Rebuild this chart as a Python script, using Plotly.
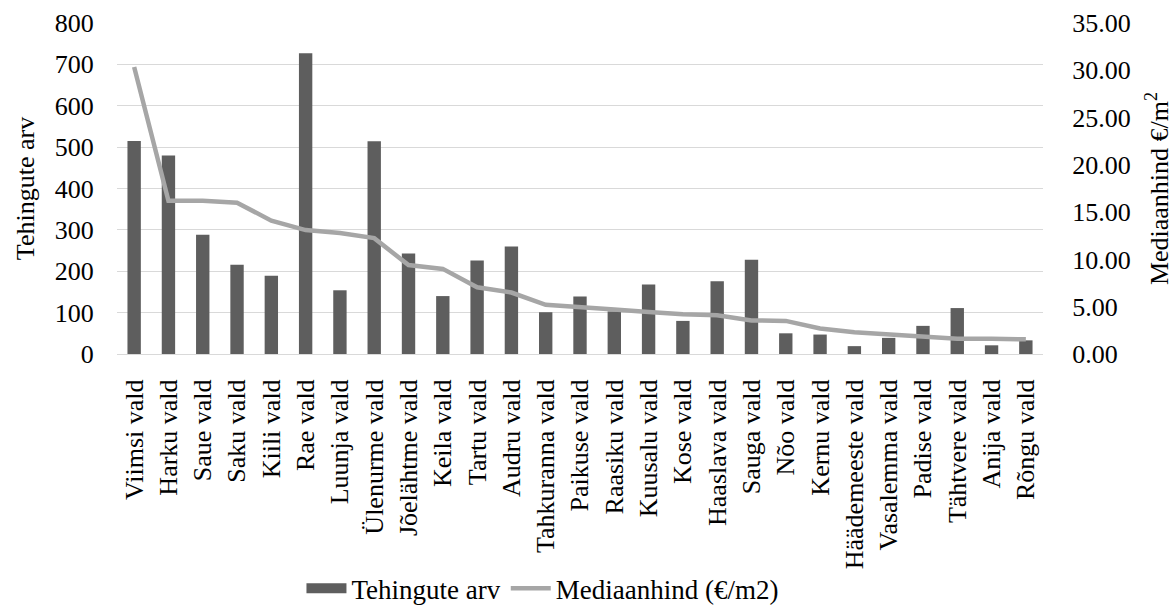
import plotly.graph_objects as go

# Municipalities (sorted by median price)
vallad = [
    "Viimsi vald", "Harku vald", "Saue vald", "Saku vald", "Kiili vald",
    "Rae vald", "Luunja vald", "Ülenurme vald", "Jõelähtme vald", "Keila vald",
    "Tartu vald", "Audru vald", "Tahkuranna vald", "Paikuse vald", "Raasiku vald",
    "Kuusalu vald", "Kose vald", "Haaslava vald", "Sauga vald", "Nõo vald",
    "Kernu vald", "Häädemeeste vald", "Vasalemma vald", "Padise vald",
    "Tähtvere vald", "Anija vald", "Rõngu vald",
]

# Number of transactions
tehingute_arv = [
    515, 480, 288, 216, 189,
    727, 154, 514, 243, 140,
    226, 260, 101, 139, 103,
    168, 80, 176, 228, 50,
    47, 19, 39, 68,
    111, 21, 33,
]

# Median price (€/m2)
mediaanhind = [
    30.35, 16.2, 16.2, 16.0, 14.1,
    13.1, 12.8, 12.25, 9.4, 9.0,
    7.05, 6.5, 5.2, 5.0, 4.7,
    4.45, 4.2, 4.1, 3.55, 3.5,
    2.7, 2.3, 2.1, 1.8,
    1.62, 1.6, 1.55,
]

left_ticks = list(range(0, 801, 100))
right_ticks = list(range(0, 36, 5))

FONT = "'Times New Roman', 'Liberation Serif', 'DejaVu Serif', serif"
BAR_COLOR = "#5e5e5e"
FS = 26

fig = go.Figure()
fig.add_trace(go.Bar(
    x=vallad, y=tehingute_arv, name="Tehingute arv",
    marker=dict(color=BAR_COLOR, line=dict(width=0)),
    yaxis="y", showlegend=False,
))
# Wide legend swatch for the bar series
fig.add_trace(go.Scatter(
    x=[None], y=[None], name="Tehingute arv", mode="lines",
    line=dict(color=BAR_COLOR, width=13), yaxis="y",
))
fig.add_trace(go.Scatter(
    x=vallad, y=mediaanhind, name="Mediaanhind (€/m2)",
    mode="lines", line=dict(color="#a6a6a6", width=4.5),
    yaxis="y2",
))

fig.update_layout(
    width=1175, height=610,
    margin=dict(l=117, r=132, t=23, b=256, autoexpand=False),
    paper_bgcolor="white", plot_bgcolor="white",
    font=dict(family=FONT, size=FS, color="black"),
    bargap=0.61,
    showlegend=True,
    legend=dict(
        orientation="h", x=0.46, xanchor="center",
        yref="container", y=0.035, yanchor="middle",
        font=dict(family=FONT, size=27), itemwidth=40,
        bgcolor="rgba(0,0,0,0)",
    ),
    xaxis=dict(
        tickangle=-90, showgrid=False, showline=False, zeroline=False,
        ticks="outside", ticklen=14, tickcolor="rgba(0,0,0,0)",
        tickfont=dict(family=FONT, size=FS), automargin=False,
    ),
    yaxis=dict(
        range=[0, 800], tickvals=left_ticks,
        showgrid=True, gridcolor="#d9d9d9", gridwidth=1,
        zeroline=True, zerolinecolor="#d9d9d9", zerolinewidth=1,
        showline=False, ticks="outside", ticklen=17, tickcolor="rgba(0,0,0,0)",
        title=dict(text="Tehingute arv", font=dict(family=FONT, size=FS), standoff=12),
        tickfont=dict(family=FONT, size=FS), automargin=False,
    ),
    yaxis2=dict(
        range=[0, 35], tickvals=right_ticks, tickformat=".2f",
        overlaying="y", side="right", showgrid=False, zeroline=False,
        showline=False, ticks="outside", ticklen=23, tickcolor="rgba(0,0,0,0)",
        title=dict(text="Mediaanhind €/m<sup>2</sup>", font=dict(family=FONT, size=FS), standoff=20),
        tickfont=dict(family=FONT, size=FS), automargin=False,
    ),
)

fig.write_html("out.html")
